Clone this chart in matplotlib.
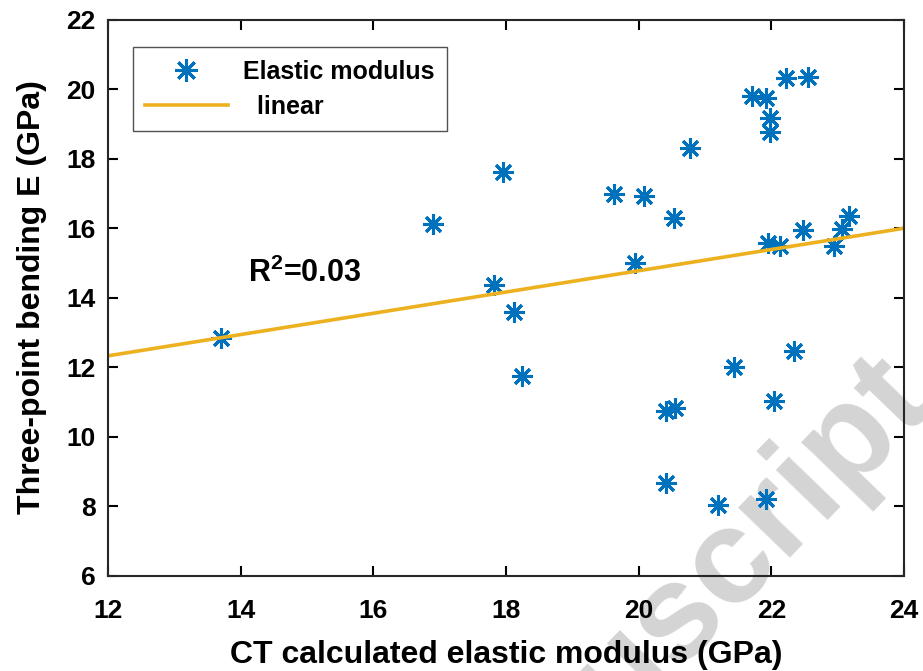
import numpy as np
import matplotlib
matplotlib.use('Agg')
import matplotlib.pyplot as plt

plt.rcParams['font.family'] = ['Liberation Sans', 'DejaVu Sans']
plt.rcParams['mathtext.fontset'] = 'custom'
plt.rcParams['mathtext.bf'] = 'Liberation Sans:bold'
plt.rcParams['mathtext.rm'] = 'Liberation Sans:bold'

# CT calculated modulus (GPa) vs three-point bending modulus (GPa)
ct_modulus = [13.70, 16.90, 17.95, 17.82, 18.12, 18.24, 19.63, 20.08, 19.95, 20.53,
              20.77, 20.41, 20.55, 20.41, 21.44, 21.20, 21.92, 22.04, 22.34, 21.71,
              21.92, 21.98, 21.98, 22.22, 22.55, 21.95, 22.13, 22.48, 22.95, 23.07,
              23.17]
bending_E = [12.83, 16.12, 17.61, 14.36, 13.58, 11.74, 16.98, 16.92, 14.99, 16.28,
             18.30, 10.73, 10.82, 8.66, 11.99, 8.03, 8.20, 11.02, 12.46, 19.80,
             19.74, 19.17, 18.76, 20.32, 20.35, 15.57, 15.48, 15.94, 15.48, 15.97,
             16.34]
fit_slope = 0.306
fit_intercept = 8.65
fit_x = [12, 24]
r2_text = 'R$^{\\mathbf{2}}$=0.03'

blue = '#0072BD'
orange = '#EDB120'

fig = plt.figure(figsize=(9.23, 6.71), dpi=100)
ax = fig.add_axes([0.117, 0.1423, 0.8624, 0.8286])
ax.patch.set_alpha(0)

# watermark behind everything
fig.text(1.012, 0.405, 'Manuscript', rotation=46, rotation_mode='anchor',
         ha='right', va='baseline', fontsize=98, fontweight='bold',
         color='#d4d4d4', zorder=-1)

ax.plot(ct_modulus, bending_E, linestyle='none', marker=(8, 2, 0),
        markersize=15, markeredgewidth=2.2, color=blue, label='Elastic modulus')
fx = np.array(fit_x, dtype=float)
ax.plot(fx, fit_slope * fx + fit_intercept, color=orange, linewidth=2.6,
        label='  linear')

ax.text(14.11, 14.45, r2_text, fontsize=22, fontweight='bold')

ax.set_xlim(12, 24)
ax.set_ylim(6, 22)
ax.set_xticks(np.arange(12, 25, 2))
ax.set_yticks(np.arange(6, 23, 2))
ax.tick_params(direction='in', top=True, right=True, length=7, width=1.5,
               labelsize=19)
ax.tick_params(axis='x', pad=17)
ax.tick_params(axis='y', pad=9)
for lab in ax.get_xticklabels() + ax.get_yticklabels():
    lab.set_fontweight('bold')
for s in ax.spines.values():
    s.set_linewidth(1.5)
    s.set_color('#262626')

ax.set_xlabel('CT calculated elastic modulus (GPa)', fontsize=23,
              fontweight='bold', labelpad=12)
ax.set_ylabel('Three-point bending E (GPa)', fontsize=23,
              fontweight='bold', labelpad=14)

leg = ax.legend(loc='upper left', bbox_to_anchor=(0.031, 0.9505), numpoints=1,
                prop={'weight': 'bold', 'size': 18}, fancybox=False,
                edgecolor='#262626', handlelength=3.3, borderpad=0.5,
                labelspacing=0.45, borderaxespad=0, markerscale=1.1,
                handletextpad=0.6)
leg.get_frame().set_linewidth(1.0)

fig.savefig('out.png', dpi=100)
